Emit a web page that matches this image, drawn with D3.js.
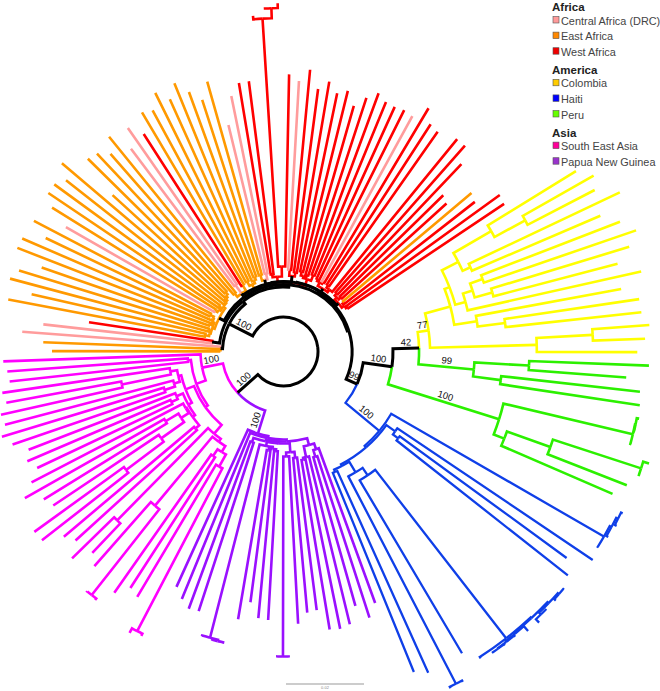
<!DOCTYPE html>
<html>
<head>
<meta charset="utf-8">
<script src="https://cdn.jsdelivr.net/npm/d3@7/dist/d3.min.js"></script>
<style>
  body { margin: 0; background: #fff; }
  text { font-family: "Liberation Sans", Arial, sans-serif; }
</style>
</head>
<body>
<svg id="tree" width="660" height="691"></svg>
<script>
// node helpers: a plain number is a tip at that distance from the root
const n = (r, ...kids) => ({ r, kids });                       // same colour as parent
const c = (region, r, ...kids) => ({ region, r, kids });       // starts a region
const k = (r, ...kids) => ({ region: "Backbone", r, kids });   // black backbone
const boot = (support, node) => Object.assign(node, { support });
const CA = r => ({ region: "Central Africa (DRC)", r });
const EA = r => ({ region: "East Africa", r });
const WA = r => ({ region: "West Africa", r });

// Africa
const africaBase = k(63, c("East Africa", 64.5, 231.5, 240.4), CA(262));
const africaPair = k(72, CA(241.7), WA(196.7));
const eastClade = k(72.5,
  c("East Africa", 75,
    n(76, n(80, 280.1, 258.3), n(78, 283, 276.6)),
    n(77, n(79, 256, 285.6), n(78, 284.7, n(82, 263.5, 281.7)))),
  c("East Africa", 75,
    n(77, n(80, CA(250.6), 272.5), n(79, 283.6, 283.7)),
    n(76, 276.8, n(78, 290.7, n(80, 231.7, n(83, 274.6, 271.9))))));
const eastCladeB = k(71.5,
  c("East Africa", 76, 262.7, 276.7),
  c("Central Africa (DRC)", 82, 253.7, 272.4),
  c("East Africa", 78, WA(258.6), 277.9));
const eastCladeC = c("East Africa", 74, n(79, 274.4, 288.7), n(77, 276.7, n(80, 289.6, 276.2)));
const eastCladeD = k(74, c("East Africa", 80, 264.5, 280.4), c("Central Africa (DRC)", 80, 233.1, 260.8));
const westLong = c("West Africa", 75,
  n(78, 272.2, 272.5),
  n(85, n(333.5, 337, n(343.5, 344.7, 348.2)), 277.2));
const westA = k(76, c("West Africa", 82, CA(270.9), 283), c("West Africa", 80, 264.8, 273.7));
const westB = c("West Africa", 76, n(78, n(82, 263.7, 268.5), n(80, 255.4, 266.9)), n(82, 275.2, 269.7));
const westC = k(74,
  c("West Africa", 78, n(80, 268.7, 269.8), n(80, CA(268.4), 283.2)),
  c("West Africa", 77, n(80, 270.8, 268.5), { r: 274.3, gapBefore: true }));
const westD = k(73,
  c("West Africa", 76, n(79, 274.4, 258.4), n(79, 223.5, 220.2)),
  c("West Africa", 76, n(78, EA(245.9), 242.9), n(78, 267, 265.4)));

// America
const colombiaClade = boot(77, c("Colombia", 146.6,
  n(172.8,
    n(178,
      n(196.4, n(240, 343.6, n(275, 356.5, 350.6)), n(205, 372, 344.7)),
      n(188.6, n(198.6, n(211.8, 360.6, 372.8), n(217, 361.2, 345.4)), 366.5)),
    n(195.7, 343.4, n(223.4, 359.5, 360))),
  n(253.3, n(309.6, 366.8, 361.8), 353.8)));
const peruCladeA = boot(99, c("Peru", 191.2, n(245.9, 365.7, 343.7), n(219.1, 358.7, 360.3)));
const peruCladeB = boot(100, c("Peru", 226,
  n(359, n(359.5, 361.9, 360.5), 360),
  n(237.3, n(283.4, n(376.2, 382.3, 375), 368.4), 358.5)));
const haitiBundle = n(363.1,
  n(364,
    n(365.5, n(367, 368, 369), n(368, 369, 372.6)),
    n(365, 371.3, n(366, 367.5, n(366.5, 368, 367.6)))),
  364.7);
const haitiClade = boot(100, c("Haiti", 124.4,
  n(370, n(372, n(374, 375.8, 376), 374), 371),
  n(126.5,
    n(137.3, 372.9, n(143.9, 350.4, 361.9)),
    n(128.5,
      n(140.7, n(149.7, haitiBundle, 350.6), n(374.3, 375.9, 375.9)),
      n(131, 352.3, 346)))));
const americaClade = boot(99, k(80.5,
  boot(100, k(109.5,
    boot(42, k(135.6, colombiaClade, peruCladeA)),
    peruCladeB)),
  haitiClade));

// Asia
const papuaClade = boot(100, c("Papua New Guinea", 86,
  n(88,
    n(90,
      n(97, n(103, 267.7, n(110, 279.7, 264.4)), n(108, 280.7, n(110, 283.1, 281.8))),
      n(91.5,
        n(92,
          n(101, n(107, 260.8, 262.3), n(105, 272.6, n(305, 306, 306))),
          n(96, n(98, n(100, 268.9, 267.9), n(100, 252.9, 271.5)), n(295.5, n(297, 298.4, 298), 296.3))),
        n(96, 273.1, 274.2))),
    267.5),
  258.6));
const seAsiaClade = boot(100, c("South East Asia", 83,
  n(93,
    n(96,
      n(107.5,
        n(111,
          n(118, n(131.8, n(315.5, 318, 320.7), 285.6), n(126, 281.7, 294.7)),
          n(200.7, n(310, 311.9, 309.9), 286)),
        n(237, 277.7, 295.8)),
      n(105,
        n(109,
          n(112,
            n(117, 281, 287.3),
            n(113, n(122, n(150, n(197, 306.6, 307.6), 277), n(137, 281.6, 297.3)), 283.9)),
          n(116, n(123, 272.5, 278.7), 273.2)),
        n(108, n(114, n(125, 286.5, 294.2), 288), n(115, n(165, 289.5, 281.9), 284.2)))),
    n(96, 275.5, 276.9)),
  280.4));

const treeData = k(34.5,
  boot(100, k(61,
    africaBase,
    k(64.5,
      africaPair,
      k(67,
        eastClade,
        k(68.5,
          k(70.5,
            k(70,
              k(69.5, eastCladeB, eastCladeC, eastCladeD, westLong, westA, westB),
              westC),
            westD),
          americaClade))))),
  boot(100, k(61.7, papuaClade, seAsiaClade)));

const treeColors = {
  "Backbone": "#000000",
  "Central Africa (DRC)": "#ff9c9c",
  "East Africa": "#ff9900",
  "West Africa": "#ff0000",
  "Colombia": "#ffff00",
  "Haiti": "#0f3fe8",
  "Peru": "#2cf000",
  "South East Asia": "#ff00ff",
  "Papua New Guinea": "#9a10ff"
};

// legend
const legendGroups = ["Africa", "America", "Asia"];
const legendItems = [
  ["Central Africa (DRC)", "East Africa", "West Africa"],
  ["Colombia", "Haiti", "Peru"],
  ["South East Asia", "Papua New Guinea"]
];
const legendColors = {
  "Central Africa (DRC)": "#ff9a9a",
  "East Africa": "#ff8800",
  "West Africa": "#ee0000",
  "Colombia": "#ffcc00",
  "Haiti": "#0000ff",
  "Peru": "#66ff00",
  "South East Asia": "#ff0099",
  "Papua New Guinea": "#9933cc"
};
const scaleBarLength = 78;
const scaleBarLabel = "0.02";

// Layout
const cx = 283.5, cy = 351.5;
const svg = d3.select("#tree");

const radius = d3.scaleLinear().domain([0, 400]).range([0, 400]);
// degrees clockwise from west
const angle = d3.scaleLinear().domain([0, 360]).range([-0.96, 359.04]);
const toRad = d => (d + 180) * Math.PI / 180;

const root = d3.hierarchy(treeData, d => d.kids);
d3.cluster()
  .size([360, 1])
  .separation(a => (a.data.gapBefore ? 2 : 1))(root);

const distance = d => (typeof d.data === "number" ? d.data : d.data.r);
root.eachBefore(d => {
  d.region = d.data.region || (d.parent ? d.parent.region : "Backbone");
});

function branch(d) {
  const a0 = toRad(angle(d.parent.x)), a1 = toRad(angle(d.x));
  const r0 = radius(distance(d.parent)), r1 = radius(distance(d));
  const p = d3.path();
  p.moveTo(cx + r0 * Math.cos(a0), cy + r0 * Math.sin(a0));
  p.arc(cx, cy, r0, a0, a1, a1 < a0);
  p.lineTo(cx + r1 * Math.cos(a1), cy + r1 * Math.sin(a1));
  return p.toString();
}

// Branches, black backbone on top
const branches = root.descendants().slice(1)
  .sort((a, b) => (a.region === "Backbone") - (b.region === "Backbone"));

svg.append("g")
  .selectAll("path")
  .data(branches)
  .enter()
  .append("path")
  .attr("d", branch)
  .attr("fill", "none")
  .attr("stroke", d => treeColors[d.region])
  .attr("stroke-width", d => (d.region === "Backbone" ? 3 : d.region === "Haiti" ? 2.3 : 2.6));

// Bootstrap labels
svg.append("g")
  .selectAll("text")
  .data(root.descendants().filter(d => d.data.support))
  .enter()
  .append("text")
  .attr("transform", d => {
    const a = toRad(angle(d.x));
    const mid = radius((distance(d) + distance(d.parent)) / 2);
    let rot = (a * 180 / Math.PI) % 360;
    if (rot > 90 && rot < 270) rot -= 180;
    return `translate(${cx + mid * Math.cos(a)},${cy + mid * Math.sin(a)}) rotate(${rot})`;
  })
  .attr("y", -3)
  .attr("text-anchor", "middle")
  .attr("font-size", 9.5)
  .attr("fill", "#111")
  .text(d => d.data.support);

// Legend
const legend = svg.append("g").attr("transform", "translate(552,0)");
let rowY = 11;
legendGroups.forEach((group, i) => {
  legend.append("text")
    .attr("x", 0).attr("y", rowY)
    .attr("font-size", 11.5).attr("font-weight", "bold").attr("fill", "#222")
    .text(group);
  rowY += 13.5;
  legendItems[i].forEach(item => {
    legend.append("rect")
      .attr("x", 1).attr("y", rowY - 8)
      .attr("width", 6).attr("height", 6.5)
      .attr("fill", legendColors[item])
      .attr("stroke", "#555").attr("stroke-width", 0.6);
    legend.append("text")
      .attr("x", 9).attr("y", rowY)
      .attr("font-size", 10.9).attr("fill", "#444")
      .text(item);
    rowY += 15.6;
  });
  rowY += 2.5;
});

// Scale bar
svg.append("line")
  .attr("x1", 286).attr("x2", 286 + radius(scaleBarLength))
  .attr("y1", 684).attr("y2", 684)
  .attr("stroke", "#999").attr("stroke-width", 1);
svg.append("text")
  .attr("x", 286 + radius(scaleBarLength) / 2).attr("y", 689)
  .attr("text-anchor", "middle").attr("font-size", 4).attr("fill", "#888")
  .text(scaleBarLabel);
</script>
</body>
</html>
